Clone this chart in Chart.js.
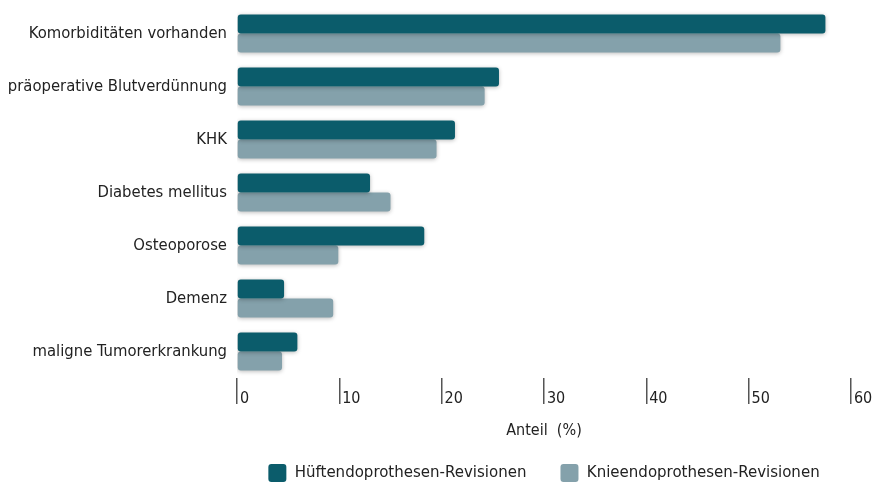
<!DOCTYPE html>
<html>
<head>
<meta charset="utf-8">
<script src="https://cdn.jsdelivr.net/npm/chart.js@4"></script>
<style>
  html, body { margin: 0; padding: 0; background: #fff; }
  #wrap { width: 876px; height: 482px; }
</style>
</head>
<body>
<div id="wrap"><canvas id="myChart" width="876" height="482"></canvas></div>
<script>
let categories = [
    'Komorbiditäten vorhanden',
    'präoperative Blutverdünnung',
    'KHK',
    'Diabetes mellitus',
    'Osteoporose',
    'Demenz',
    'maligne Tumorerkrankung'
];
let hueftValues = [57.5, 25.6, 21.3, 13.0, 18.3, 4.6, 5.9];
let knieValues = [53.1, 24.2, 19.5, 15.0, 9.9, 9.4, 4.4];
let seriesNames = ['Hüftendoprothesen-Revisionen', 'Knieendoprothesen-Revisionen'];
let xTicks = [0, 10, 20, 30, 40, 50, 60];

let fontFamily = '"Liberation Sans Narrow", "DejaVu Sans Condensed", "Noto Sans", sans-serif';

// soft shadow under the bars
let barShadow = {
    id: 'barShadow',
    beforeDatasetsDraw(chart) {
        let ctx = chart.ctx;
        ctx.save();
        ctx.shadowColor = 'rgba(0,0,0,0.28)';
        ctx.shadowBlur = 4;
        ctx.shadowOffsetX = 0;
        ctx.shadowOffsetY = 1;
    },
    afterDatasetsDraw(chart) {
        chart.ctx.restore();
    }
};

let ctx = document.getElementById('myChart').getContext('2d');

let myChart = new Chart(ctx, {
    type: 'bar',
    data: {
        labels: categories,
        datasets: [{
            label: seriesNames[0],
            data: hueftValues,
            backgroundColor: '#0b5c6b',
            borderRadius: 3,
            borderSkipped: false,
            barPercentage: 1,
            categoryPercentage: 0.715
        }, {
            label: seriesNames[1],
            data: knieValues,
            backgroundColor: '#84a1ab',
            borderRadius: 3,
            borderSkipped: false,
            barPercentage: 1,
            categoryPercentage: 0.715
        }]
    },
    options: {
        indexAxis: 'y',
        responsive: false,
        animation: false,
        layout: {
            padding: { top: 7, right: 25, left: 0, bottom: -10 }
        },
        scales: {
            x: {
                min: 0,
                max: 60,
                afterBuildTicks: (scale) => {
                    scale.ticks = xTicks.map(v => ({ value: v }));
                },
                afterFit: (scale) => { scale.height = 82; },
                border: { display: false },
                grid: {
                    drawOnChartArea: false,
                    drawTicks: true,
                    tickLength: 26,
                    color: '#555',
                    lineWidth: 1.5
                },
                ticks: {
                    align: 'start',
                    padding: -15,
                    color: '#222',
                    font: { family: fontFamily, size: 16 },
                    callback: (v) => '\u2009' + v
                },
                title: {
                    display: true,
                    text: 'Anteil  (%)',
                    color: '#222',
                    font: { family: fontFamily, size: 16 },
                    padding: { top: 0, bottom: 20 }
                }
            },
            y: {
                afterFit: (scale) => {
                    scale.width = 237;
                    scale.paddingTop = 0;
                    scale.paddingBottom = 0;
                },
                border: { display: false },
                grid: { display: false },
                ticks: {
                    color: '#222',
                    padding: 2,
                    font: { family: fontFamily, size: 16.5 }
                }
            }
        },
        plugins: {
            legend: {
                position: 'bottom',
                fullSize: false,
                labels: {
                    color: '#222',
                    font: { family: fontFamily, size: 16.7 },
                    boxWidth: 18,
                    boxHeight: 18,
                    useBorderRadius: true,
                    borderRadius: 3,
                    padding: 4,
                    generateLabels: (chart) => {
                        let items = Chart.defaults.plugins.legend.labels.generateLabels(chart);
                        // wider gap between the two entries
                        items[0].text = items[0].text + '\u2003\u2003';
                        return items;
                    }
                }
            },
            tooltip: { enabled: false }
        }
    },
    plugins: [barShadow]
});
</script>
</body>
</html>
